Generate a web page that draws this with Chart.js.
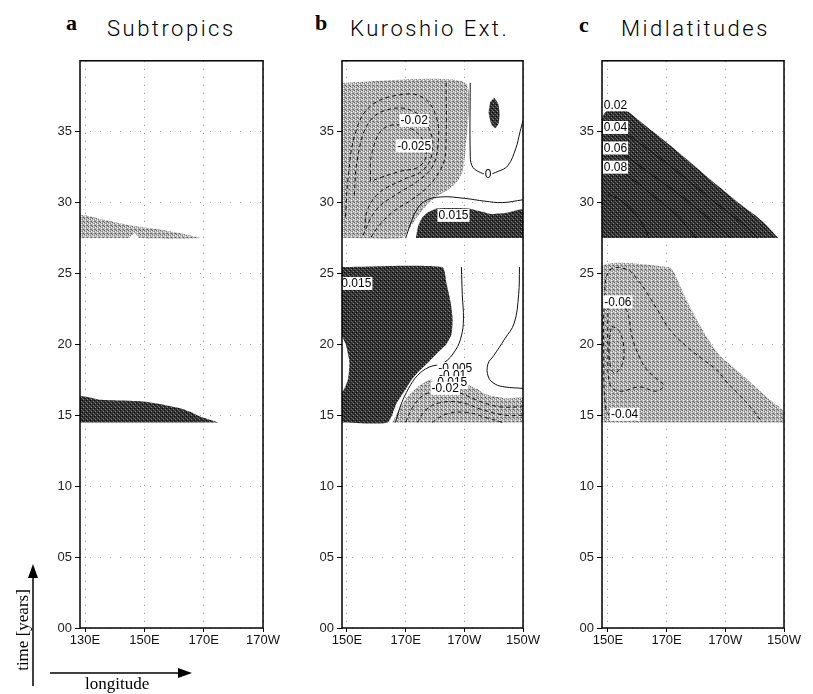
<!DOCTYPE html>
<html>
<head>
<meta charset="utf-8">
<script src="https://cdn.jsdelivr.net/npm/chart.js@4.4.1/dist/chart.umd.min.js"></script>
<style>
  body { margin: 0; background: #fff; width: 813px; height: 694px; position: relative; overflow: hidden; }
  canvas { position: absolute; }
  .letter { position: absolute; font-family: "Liberation Serif", serif; font-weight: bold; font-size: 22px; color: #000; }
  .title { position: absolute; font-family: Roboto, "Liberation Sans", sans-serif; font-weight: 300; font-size: 22px; letter-spacing: 2.5px; color: #000; }
  .axname { position: absolute; font-family: "Liberation Serif", serif; font-size: 17px; color: #000; white-space: nowrap; }
  #arrows { position: absolute; left: 0; top: 0; }
</style>
</head>
<body>
<div class="letter" style="left:66px;top:10px">a</div>
<div class="title" style="left:107px;top:16px">Subtropics</div>
<div class="letter" style="left:315px;top:10px">b</div>
<div class="title" style="left:350px;top:16px">Kuroshio Ext.</div>
<div class="letter" style="left:579px;top:12px">c</div>
<div class="title" style="left:621px;top:16px">Midlatitudes</div>

<canvas id="chartA" width="241" height="600" style="left:40px;top:50px"></canvas>
<canvas id="chartB" width="239" height="600" style="left:302px;top:50px"></canvas>
<canvas id="chartC" width="240" height="600" style="left:562px;top:50px"></canvas>

<svg id="arrows" width="813" height="694">
  <line x1="33" y1="686" x2="33" y2="576" stroke="#000" stroke-width="1.5"/>
  <polygon points="33,564 28,578 38,578" fill="#000"/>
  <line x1="50" y1="673" x2="180" y2="673" stroke="#000" stroke-width="1.5"/>
  <polygon points="192,673 178,668 178,678" fill="#000"/>
</svg>
<div class="axname" style="left:-22px;top:620px;transform:rotate(-90deg);width:90px;text-align:center">time [years]</div>
<div class="axname" style="left:85px;top:674px">longitude</div>

<script>
// axes
const yearTicks = [0, 5, 10, 15, 20, 25, 30, 35];
const yearLabels = ['00', '05', '10', '15', '20', '25', '30', '35'];
const lonTicksA = [130, 150, 170, 190];
const lonLabelsA = ['130E', '150E', '170E', '170W'];
const lonTicksBC = [150, 170, 190, 210];
const lonLabelsBC = ['150E', '170E', '170W', '150W'];

// panel a: Subtropics  [lon, year]
const aNegBand = [[128.3, 27.5], [128.3, 29.1], [136, 28.8], [145, 28.4], [155, 28.1], [163, 27.8], [168.5, 27.5], [148.3, 27.5], [146.8, 27.85], [145, 27.5]];
const aPosBand = [[128.3, 14.5], [128.3, 16.3], [135, 16.1], [148, 16.0], [155, 15.8], [162, 15.5], [166, 15.2], [169, 14.9], [175, 14.5]];

// panel b: Kuroshio Ext.
const bNegUpper = [[148.3, 38.45], [190.3, 38.45], [190.3, 33.5], [189.5, 32.3], [188, 31.6], [184.5, 30.9], [181, 30.5], [177.5, 29.9], [175.5, 29.4], [173, 28.7], [171, 28.1], [169, 27.5], [148.3, 27.5]];
const bPosUpper = [[173.5, 27.5], [174.2, 28.3], [175.5, 28.9], [177.5, 29.3], [181, 29.6], [191, 29.6], [195, 29.4], [199, 29.2], [205, 29.3], [210, 29.5], [210, 27.5]];
const bPosBlob = [[200.2, 37.4], [201.5, 37.0], [202, 36.3], [201.7, 35.6], [200.6, 35.25], [199.3, 35.5], [198.3, 36.3], [198.8, 37.1]];
const bPosLower = [[148.3, 25.45], [182.4, 25.45], [184, 24.2], [185.3, 23], [186, 21.8], [185.6, 20.7], [183.8, 20], [181.3, 19.5], [178, 18.8], [174.5, 18.1], [172, 17.5], [170.2, 16.9], [168.3, 16.3], [166.8, 15.8], [163.8, 14.5], [148.3, 14.5]];
const bGapLower = [[148.3, 20.6], [149.6, 20.0], [150.8, 18.8], [150.4, 17.6], [149.2, 16.9], [148.3, 16.6]];
const bNegLower = [[165.5, 14.5], [167.5, 15.3], [170.2, 16.2], [173, 16.8], [175.5, 17.2], [178, 17.5], [181.3, 17.6], [185, 17.5], [190.3, 17.2], [194, 16.9], [197, 16.5], [203.8, 16.2], [210, 16.2], [210, 14.5]];
const bSolid = [
  [[192, 38.45], [192, 33.5], [192.6, 32.6], [194.7, 32.2], [198, 32.0], [201.5, 32.2], [204.8, 32.6], [207.5, 33.8], [209, 35], [210, 35.8]],
  [[170, 27.5], [171.5, 28.4], [173.5, 29.4], [176.5, 30.1], [182, 30.4], [190, 30.3], [197, 30.1], [203, 30.0], [210, 30.2]],
  [[189, 25.45], [189.3, 23.5], [189.7, 21.8], [189, 20.6], [187, 19.6], [183, 18.7], [178, 18.4], [174, 17.8], [171, 16.9], [168.5, 15.8], [166.5, 14.5]],
  [[208.8, 25.45], [208.5, 23.5], [207, 21.5], [203.8, 20.4], [200, 19.2], [198, 18.6], [198.2, 17.7], [200.5, 17.2], [203.8, 17.0], [210, 16.9]]
];
const bDashed = [
  [[183.8, 38.45], [183.8, 34.5], [183.2, 33], [181.5, 32.2], [178, 31.2], [172, 30.2], [166, 29.4], [161, 28.4], [158, 27.5]],
  [[149.5, 29], [150.5, 32], [153, 35], [158, 36.8], [168, 37.6], [176, 37.4], [180.5, 36], [181, 34], [179, 32.5], [174, 31.5], [167, 30.6], [160, 29.5], [155, 27.5]],
  [[152.5, 30.5], [153.5, 33], [157, 35.5], [163, 36.5], [172, 36.5], [178, 35.2], [179, 33.5], [176, 32.3], [169, 31.6], [161, 30.7], [157, 29.5], [156, 28.2]],
  [[158, 31.5], [158.5, 33.5], [163, 35.3], [172, 35.2], [177, 33.8], [175, 32.6], [168, 32.2], [162, 31.8], [158, 31.5]],
  [[170, 14.5], [172.5, 15.6], [176, 16.4], [181, 16.7], [188, 16.6], [195, 16.0], [202, 15.6], [210, 15.6]],
  [[174, 14.5], [177, 15.4], [182, 15.9], [189, 15.9], [196, 15.4], [204, 15.0], [210, 15.0]],
  [[179, 14.5], [184, 15.1], [191, 15.2], [198, 14.8], [203, 14.5]]
];

// panel c: Midlatitudes
const cPosUpper = [[148, 27.5], [148, 35.9], [149.5, 36.45], [156.5, 36.45], [160, 35.9], [166, 34.9], [172, 33.9], [180, 32.5], [188, 31.1], [195, 29.9], [200.2, 29.1], [204, 28.4], [208, 27.5]];
const cNegLower = [[148, 14.5], [148, 25.45], [170.9, 25.45], [172.5, 25.1], [173.6, 24.6], [175.5, 23.7], [177.6, 22.8], [182, 21.1], [187.7, 19.3], [195.5, 17.9], [204.6, 16.2], [209.7, 15.3], [210, 14.5]];
const cSolid = [
  [[148.5, 35.4], [152, 35.3], [158, 34.6], [166, 33.4], [176, 31.8], [186, 30.1], [196, 28.5], [201, 27.5]],
  [[148.5, 33.9], [152, 33.8], [158, 33.0], [166, 31.8], [176, 30.3], [186, 28.6], [192, 27.5]],
  [[148.5, 32.4], [152, 32.5], [158, 31.7], [166, 30.4], [174, 29.0], [180, 27.5]],
  [[150, 30.6], [154, 30.2], [158, 29.5], [162, 28.4], [164, 27.5]]
];
const cDashed = [
  [[201.9, 14.7], [198.9, 15.5], [195, 16.4], [191.1, 17.2], [187, 18.2], [182, 19], [176, 20], [170.9, 21.1], [167, 22.4], [163.1, 23.7], [160, 24.6], [156.4, 25.3], [150.5, 25.2], [148.8, 23], [148.6, 19], [149, 16], [150.5, 15.0], [155, 14.8], [160, 14.6]],
  [[150, 22.7], [153, 23.0], [156.4, 22.4], [158.4, 20.4], [161, 19], [163, 18.3], [167, 17.5], [169, 17.1], [166.5, 16.7], [160.8, 17.0], [154, 16.7], [150.7, 17.2], [150, 19.5], [150, 22.7]],
  [[151.3, 21.3], [154, 20.9], [155.5, 19.5], [154.5, 18.4], [152, 18.0], [150.6, 18.8], [150.6, 20.5], [151.3, 21.3]]
];

// contour labels [lon, year, text]
const labelsA = [];
const labelsB = [[172.9, 35.8, '-0.02'], [172.9, 34.0, '-0.025'], [198.1, 32.0, '0'], [186.3, 29.1, '0.015'], [153.2, 24.3, '0.015'],
  [186.9, 18.3, '-0.005'], [186, 17.8, '-0.01'], [185.2, 17.3, '-0.015'], [183.5, 16.9, '-0.02']];
const labelsC = [[152.6, 36.9, '0.02'], [152.6, 35.3, '0.04'], [152.6, 33.85, '0.06'], [152.6, 32.5, '0.08'], [153.4, 23.0, '-0.06'], [155.7, 15.07, '-0.04']];

function makePattern(base, dots) {
  const tile = document.createElement('canvas');
  tile.width = 4; tile.height = 4;
  const t = tile.getContext('2d');
  t.fillStyle = base;
  t.fillRect(0, 0, 4, 4);
  dots.forEach(function (d) { t.fillStyle = d[2]; t.fillRect(d[0], d[1], 1, 1); });
  return t.createPattern(tile, 'repeat');
}
const lightFill = makePattern('#b4b4b4', [[0, 0, '#606060'], [2, 1, '#7a7a7a'], [1, 2, '#fff'], [3, 3, '#606060'], [3, 1, '#f4f4f4'], [1, 0, '#e4e4e4'], [2, 3, '#888']]);
const darkFill = makePattern('#333', [[0, 0, '#111'], [2, 2, '#000'], [1, 3, '#777'], [3, 1, '#888'], [2, 0, '#555']]);

function pts(list) { return list.map(function (p) { return { x: p[0], y: p[1] }; }); }
function area(list, bg) {
  return { data: pts(list), backgroundColor: bg, borderColor: 'rgba(0,0,0,0)', borderWidth: 0, pointRadius: 0, fill: 'shape', tension: 0.2 };
}
function contour(list, dashed) {
  return { data: pts(list), borderColor: '#111', borderWidth: 1, borderDash: dashed ? [4, 3] : [], pointRadius: 0, fill: false, tension: 0.4 };
}

const labelSets = { chartA: labelsA, chartB: labelsB, chartC: labelsC };

const framePlugin = {
  id: 'frame',
  afterDraw: function (chart) {
    const a = chart.chartArea, ctx = chart.ctx;
    ctx.save();
    ctx.strokeStyle = '#000';
    ctx.lineWidth = 1.5;
    ctx.strokeRect(a.left, a.top, a.right - a.left, a.bottom - a.top);
    ctx.restore();
  }
};
const labelPlugin = {
  id: 'contourLabels',
  afterDatasetsDraw: function (chart) {
    const items = labelSets[chart.canvas.id] || [];
    const ctx = chart.ctx, xs = chart.scales.x, ys = chart.scales.y;
    ctx.save();
    ctx.font = '12px "Liberation Sans", Arial, sans-serif';
    ctx.textAlign = 'center';
    ctx.textBaseline = 'middle';
    items.forEach(function (it) {
      const px = xs.getPixelForValue(it[0]), py = ys.getPixelForValue(it[1]);
      const w = ctx.measureText(it[2]).width + 2;
      ctx.fillStyle = '#fff';
      ctx.fillRect(px - w / 2, py - 6.5, w, 13);
      ctx.fillStyle = '#000';
      ctx.fillText(it[2], px, py + 0.5);
    });
    ctx.restore();
  }
};

function makeChart(id, xMin, xMax, xTicks, xLabels, datasets) {
  return new Chart(document.getElementById(id), {
    type: 'line',
    data: { datasets: datasets },
    options: {
      responsive: false,
      animation: false,
      layout: { padding: { top: 8, right: 16, left: 0, bottom: 0 } },
      plugins: { legend: { display: false }, tooltip: { enabled: false } },
      scales: {
        x: {
          type: 'linear', min: xMin, max: xMax,
          afterBuildTicks: function (s) { s.ticks = xTicks.map(function (v) { return { value: v }; }); },
          afterFit: function (s) { s.height = 22; },
          ticks: {
            autoSkip: false, maxRotation: 0, padding: 1, color: '#111',
            font: { family: '"Liberation Sans Narrow", "Liberation Sans", sans-serif', size: 13 },
            callback: function (v, i) { return xLabels[i]; }
          },
          grid: { color: '#888', lineWidth: 1, tickLength: 4, tickColor: '#000', tickBorderDash: [] },
          border: { display: false, dash: [1, 7] }
        },
        y: {
          min: 0, max: 40,
          afterBuildTicks: function (s) { s.ticks = yearTicks.map(function (v) { return { value: v }; }); },
          afterFit: function (s) { s.width = 40; },
          ticks: {
            padding: 3, color: '#222',
            font: { family: '"Liberation Sans", Arial, sans-serif', size: 13 },
            callback: function (v, i) { return yearLabels[i]; }
          },
          grid: { color: '#aaa', lineWidth: 1, tickLength: 5, tickColor: '#000', tickBorderDash: [] },
          border: { display: false, dash: [1, 9] }
        }
      }
    },
    plugins: [framePlugin, labelPlugin]
  });
}

makeChart('chartA', 128.3, 190, lonTicksA, lonLabelsA, [
  area(aNegBand, lightFill),
  area(aPosBand, darkFill)
]);

makeChart('chartB', 148.3, 210, lonTicksBC, lonLabelsBC,
  bSolid.map(function (l) { return contour(l, false); })
    .concat(bDashed.map(function (l) { return contour(l, true); }))
    .concat([
      area(bGapLower, '#fff'),
      area(bPosBlob, darkFill),
      area(bNegUpper, lightFill),
      area(bPosUpper, darkFill),
      area(bPosLower, darkFill),
      area(bNegLower, lightFill)
    ])
);

makeChart('chartC', 148, 210, lonTicksBC, lonLabelsBC,
  cSolid.map(function (l) { return contour(l, false); })
    .concat(cDashed.map(function (l) { return contour(l, true); }))
    .concat([
      area(cPosUpper, darkFill),
      area(cNegLower, lightFill)
    ])
);
</script>
</body>
</html>
